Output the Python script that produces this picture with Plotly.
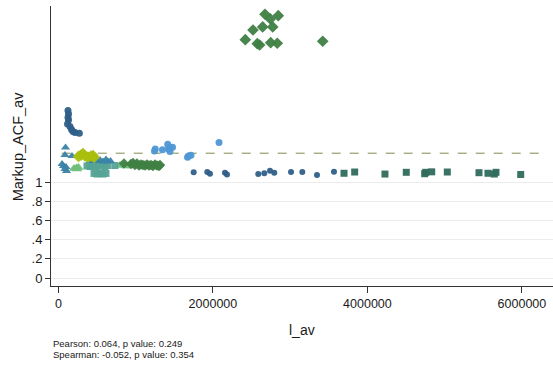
import plotly.graph_objects as go

# ---- data -------------------------------------------------------------
# dark blue circles: high-markup group at low l_av
navy_hi_x = [124000, 131000, 124000, 131000, 118000, 150000, 170000, 189000, 215000, 271000]
navy_hi_y = [1.745, 1.708, 1.672, 1.646, 1.604, 1.578, 1.547, 1.526, 1.516, 1.507]

# dark blue circles: flat group around 1.1
navy_lo_x = [1751000, 1927000, 1962000, 2156000, 2182000, 2587000, 2665000, 2739000,
             2794000, 3011000, 3157000, 3347000, 3567000]
navy_lo_y = [1.101, 1.104, 1.086, 1.097, 1.078, 1.083, 1.091, 1.117,
             1.097, 1.104, 1.104, 1.073, 1.106]

# light blue circles
sky_x = [1244000, 1254000, 1347000, 1415000, 1425000, 1444000, 1477000, 1444000,
         1671000, 1684000, 1716000, 2079000]
sky_y = [1.323, 1.344, 1.335, 1.393, 1.344, 1.359, 1.361, 1.318,
         1.257, 1.271, 1.278, 1.411]

# teal triangles
tri_x = [92000, 85000, 176000, 47000, 66000, 98000, 85000, 105000,
         409000, 461000, 500000, 538000, 577000, 616000, 642000, 674000]
tri_y = [1.359, 1.281, 1.271, 1.188, 1.167, 1.156, 1.135, 1.115,
         1.219, 1.224, 1.219, 1.229, 1.214, 1.234, 1.214, 1.219]

# light green triangles
lgreen_x = [202000, 234000, 260000, 241000, 797000, 875000, 945000, 1134000]
lgreen_y = [1.141, 1.146, 1.151, 1.135, 1.172, 1.167, 1.167, 1.167]

# yellow-green diamonds
lime_x = [260000, 293000, 318000, 344000, 383000, 422000, 448000, 461000]
lime_y = [1.266, 1.281, 1.297, 1.271, 1.260, 1.271, 1.276, 1.255]

# medium teal squares
sq_x = [370000, 409000, 448000, 487000, 525000, 564000, 603000, 642000, 733000,
        461000, 500000, 538000, 577000, 616000]
sq_y = [1.167, 1.161, 1.167, 1.161, 1.167, 1.167, 1.161, 1.172, 1.172,
        1.089, 1.083, 1.089, 1.083, 1.089]

# dark green diamonds: flat group around 1.18
dg_lo_x = [849000, 940000, 966000, 991000, 1017000, 1043000, 1069000, 1095000,
           1121000, 1147000, 1173000, 1199000, 1224000, 1250000, 1276000, 1302000, 1315000]
dg_lo_y = [1.193, 1.188, 1.198, 1.177, 1.193, 1.172, 1.182, 1.177,
           1.172, 1.182, 1.172, 1.177, 1.167, 1.182, 1.172, 1.167, 1.177]

# dark green diamonds: high group
dg_hi_x = [2674000, 2846000, 2743000, 2519000, 2644000, 2774000, 2419000, 2574000,
           2605000, 2748000, 2833000, 3421000]
dg_hi_y = [2.747, 2.732, 2.698, 2.583, 2.615, 2.615, 2.482, 2.441,
           2.427, 2.451, 2.445, 2.466]

# dark teal squares
dsq_x = [3697000, 3835000, 4227000, 4503000, 4741000, 4754000, 4832000, 5034000,
         5444000, 5560000, 5642000, 5664000, 5984000]
dsq_y = [1.091, 1.104, 1.083, 1.101, 1.086, 1.101, 1.106, 1.104,
         1.097, 1.091, 1.083, 1.101, 1.078]

# dashed reference level
ref_x = [43000, 6298000]
ref_y = [1.3, 1.3]

y_ticks = [0, 0.2, 0.4, 0.6, 0.8, 1]
y_tick_text = ["0", ".2", ".4", ".6", ".8", "1"]
x_ticks = [0, 2000000, 4000000, 6000000]
x_tick_text = ["0", "2000000", "4000000", "6000000"]

notes = ["Pearson: 0.064, p value: 0.249", "Spearman: -0.052, p value: 0.354"]

# ---- figure -----------------------------------------------------------
fig = go.Figure()

fig.add_trace(go.Scatter(x=ref_x, y=ref_y, mode="lines",
                         line=dict(color="#7f8d52", width=1, dash="dash"),
                         hoverinfo="skip"))

def add_group(x, y, color, symbol, size):
    fig.add_trace(go.Scatter(
        x=x, y=y, mode="markers",
        marker=dict(color=color, symbol=symbol, size=size, opacity=0.95,
                    line=dict(width=0))))

add_group(lgreen_x, lgreen_y, "#6fbf7a", "triangle-up", 9)
add_group(sq_x, sq_y, "#55a396", "square", 7)
add_group(tri_x, tri_y, "#3a83a6", "triangle-up", 8)
add_group(lime_x, lime_y, "#a9bf0e", "diamond", 9)
add_group(dg_lo_x, dg_lo_y, "#3f7f43", "diamond", 8)
add_group(dg_hi_x, dg_hi_y, "#3f7f43", "diamond", 9)
add_group(sky_x, sky_y, "#4f97d5", "circle", 7)
add_group(navy_hi_x, navy_hi_y, "#2e5f88", "circle", 7)
add_group(navy_lo_x, navy_lo_y, "#2e5f88", "circle", 6)
add_group(dsq_x, dsq_y, "#2f6b5c", "square", 7)

font_family = "Liberation Sans, Arial, sans-serif"

fig.update_layout(
    width=553, height=367,
    margin=dict(l=51, r=0, t=6, b=81),
    paper_bgcolor="white", plot_bgcolor="white",
    showlegend=False,
    font=dict(family=font_family, color="#1a1a1a", size=13),
    xaxis=dict(range=[-95800, 6402000], tickvals=x_ticks, ticktext=x_tick_text,
               showgrid=False, zeroline=False, showline=True, linecolor="#333333",
               linewidth=1, ticks="outside", ticklen=6, tickcolor="#333333",
               tickfont=dict(size=12.5)),
    yaxis=dict(range=[-0.083, 2.833], tickvals=y_ticks, ticktext=y_tick_text,
               showgrid=True, gridcolor="#ececec", gridwidth=1, zeroline=False,
               showline=True, linecolor="#333333", linewidth=1,
               ticks="outside", ticklen=5, tickcolor="#333333",
               tickfont=dict(size=13)),
)

fig.add_annotation(text="l_av", xref="paper", yref="paper", x=0.5, y=-0.157,
                   showarrow=False, font=dict(size=14), xanchor="center", yanchor="middle")
fig.add_annotation(text="Markup_ACF_av", xref="paper", yref="paper", x=-0.065, y=0.5,
                   textangle=-90, showarrow=False, font=dict(size=14.5),
                   xanchor="center", yanchor="middle")
for note, ny in zip(notes, [-0.207, -0.246]):
    fig.add_annotation(text=note, xref="paper", yref="paper", x=0.0, y=ny,
                       showarrow=False, font=dict(size=9.5), align="left",
                       xanchor="left", yanchor="middle")

fig.write_html("out.html")
